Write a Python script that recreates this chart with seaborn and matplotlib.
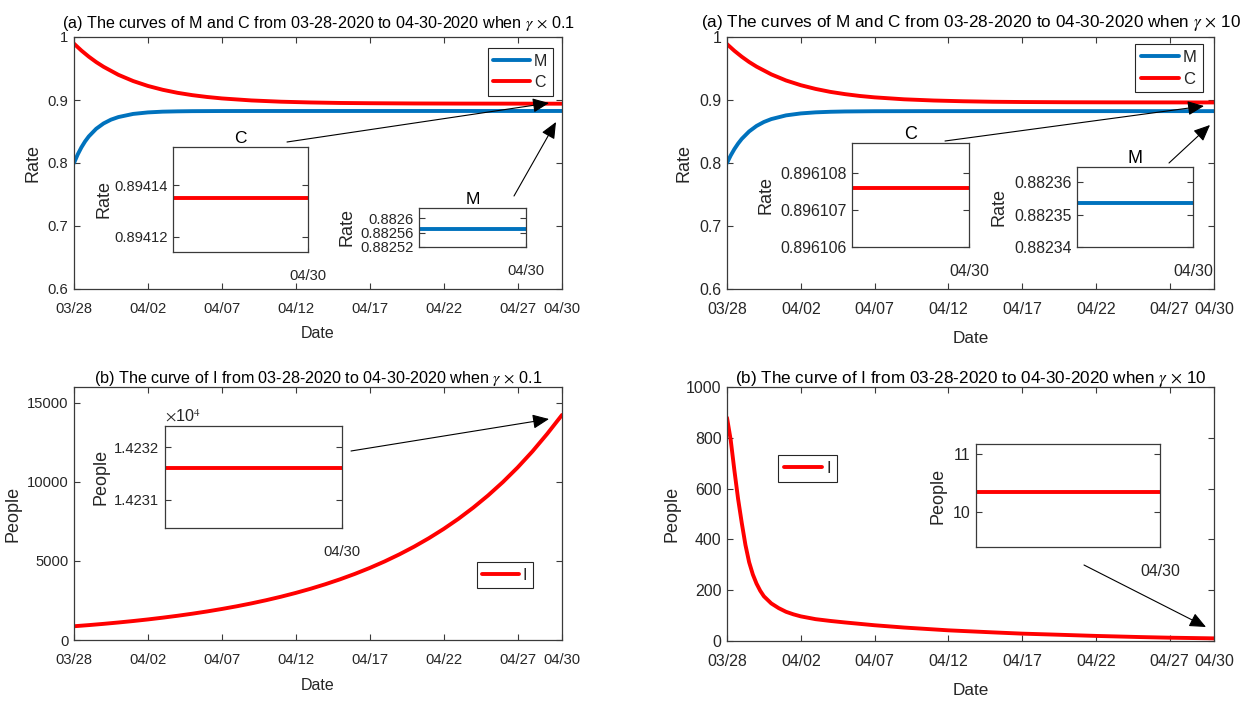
import matplotlib
matplotlib.use("Agg")
import matplotlib.pyplot as plt
import seaborn as sns
from matplotlib.patches import FancyArrowPatch
from matplotlib.ticker import FuncFormatter, FixedLocator

# ---------------- data ----------------
tick_days = [0, 5, 10, 15, 20, 25, 30, 33]
tick_labels = ["03/28", "04/02", "04/07", "04/12", "04/17", "04/22", "04/27", "04/30"]

# M : gamma x 0.1 and gamma x 10
m_days = [0, 0.25, 0.5, 0.75, 1, 1.5, 2, 2.5, 3, 4, 5, 6, 7, 8, 10, 13, 20, 33]
m_low = [0.8000, 0.8135, 0.8248, 0.8343, 0.8422, 0.8543, 0.8628, 0.8688, 0.8729,
         0.8779, 0.8803, 0.8815, 0.8820, 0.8823, 0.8825, 0.88256, 0.88257, 0.882571]
m_high = [0.8000, 0.8119, 0.8221, 0.8308, 0.8383, 0.8501, 0.8588, 0.8651, 0.8697,
          0.8756, 0.8787, 0.8804, 0.8813, 0.8818, 0.8822, 0.88233, 0.882352, 0.8823536]

# C : gamma x 0.1 and gamma x 10
c_days = [0, 0.5, 1, 1.5, 2, 3, 4, 5, 6, 7, 8, 9, 10, 12, 14, 16, 18, 20, 23, 26, 30, 33]
c_low = [0.9894, 0.9785, 0.9688, 0.9602, 0.9527, 0.9400, 0.9301, 0.9223, 0.9162, 0.9114,
         0.9077, 0.9048, 0.9025, 0.8993, 0.8973, 0.8961, 0.8953, 0.8949, 0.8945, 0.89431,
         0.89421, 0.894135]
c_high = [0.9887, 0.9781, 0.9687, 0.9603, 0.9530, 0.9407, 0.9310, 0.9235, 0.9176, 0.9129,
          0.9093, 0.9064, 0.9042, 0.9011, 0.8992, 0.8980, 0.8972, 0.8968, 0.89645, 0.89628,
          0.89617, 0.8961076]

# I : gamma x 0.1 (daily)
i_low_days = list(range(34))
i_low = [870, 942, 1021, 1107, 1200, 1301, 1412, 1532, 1663, 1806, 1962, 2131, 2316, 2518,
         2738, 2979, 3241, 3528, 3841, 4183, 4557, 4966, 5414, 5903, 6439, 7025, 7667, 8371,
         9141, 9985, 10911, 11926, 13039, 14231.6]

# I : gamma x 10
i_high_days = [0, 0.25, 0.5, 0.75, 1.0, 1.25, 1.5, 1.75, 2.0, 2.25, 2.5, 3.0, 3.5, 4.0, 4.5,
               5, 6, 7, 8, 10, 12, 15, 18, 20, 22, 25, 28, 30, 33]
i_high = [879, 792, 672, 560, 465, 378, 310, 262, 226, 198, 176, 148, 129.5, 115, 105,
          97, 86, 79, 73, 62, 53, 42, 34, 29, 25.5, 20, 15.5, 13, 10.34]

# zoomed values at 04/30 shown in the insets
zoom_days = [32.0, 33.0]
zoom_c_low = [0.894135, 0.894135]
zoom_m_low = [0.882571, 0.882571]
zoom_c_high = [0.8961076, 0.8961076]
zoom_m_high = [0.8823536, 0.8823536]
zoom_i_low = [14231.6, 14231.6]
zoom_i_high = [10.34, 10.34]

# ---------------- style ----------------
sns.set_theme(style="white")
plt.rcParams["font.family"] = ["Liberation Sans", "DejaVu Sans"]
plt.rcParams["mathtext.fontset"] = "stix"

RED = "#FF0000"
BLUE = "#0072BD"
AXC = "#3a3a3a"
TXT = "#262626"
LW = 2.8

# font sizes: left panels are drawn a little narrower than right panels
LEFT = dict(title=11.6, tick=10.6, xlab=11.5, ylab=13, leg=11.5, ititle=12.5)
RIGHT = dict(title=12.3, tick=11.4, xlab=12.3, ylab=13, leg=12, ititle=13)

W, H = 1240, 701
fig = plt.figure(figsize=(W / 100, H / 100), dpi=100)
fig.patch.set_facecolor("white")


def px_axes(x1, y1, x2, y2):
    return fig.add_axes([x1 / W, 1 - y2 / H, (x2 - x1) / W, (y2 - y1) / H])


def style_axes(ax, size):
    for s in ax.spines.values():
        s.set_color(AXC)
        s.set_linewidth(0.9)
        s.set_visible(True)
    ax.tick_params(direction="in", length=4, width=0.8, color=AXC, labelcolor=TXT,
                   labelsize=size, top=True, right=True, left=True, bottom=True)
    ax.tick_params(axis="x", pad=9.5)
    ax.tick_params(axis="y", pad=4)
    ax.set_facecolor("white")
    ax.grid(False)


def main_axes(x1, y1, x2, y2, fs):
    ax = px_axes(x1, y1, x2, y2)
    style_axes(ax, fs["tick"])
    ax.set_xlim(0, 33)
    ax.xaxis.set_major_locator(FixedLocator(tick_days))
    ax.set_xticklabels(tick_labels)
    ax.set_xlabel("Date", fontsize=fs["xlab"], color=TXT)
    return ax


def inset(x1, y1, x2, y2, yticks, ylim, fmt, label, fs, title=None, lab_x=-0.4):
    ax = px_axes(x1, y1, x2, y2)
    style_axes(ax, fs["tick"])
    ax.set_xlim(zoom_days[0], zoom_days[-1])
    ax.xaxis.set_major_locator(FixedLocator([tick_days[-1]]))
    ax.set_xticklabels([tick_labels[-1]])
    ax.tick_params(axis="x", pad=12, length=3, top=False)
    ax.set_ylim(*ylim)
    ax.yaxis.set_major_locator(FixedLocator(yticks))
    ax.yaxis.set_major_formatter(FuncFormatter(fmt))
    ax.set_ylabel(label, fontsize=fs["ylab"], color=TXT)
    ax.yaxis.set_label_coords(lab_x, 0.5)
    if title:
        ax.set_title(title, fontsize=fs["ititle"], color="black", pad=3)
    ax.set_zorder(5)
    return ax


def trim(v, p):
    return ("%.7f" % v).rstrip("0").rstrip(".")


def arrow(x1, y1, x2, y2):
    a = FancyArrowPatch((x1 / W, 1 - y1 / H), (x2 / W, 1 - y2 / H),
                        transform=fig.transFigure,
                        arrowstyle="-|>,head_length=0.5,head_width=0.22",
                        mutation_scale=20, lw=0.8, color="black",
                        shrinkA=0, shrinkB=0, zorder=10)
    fig.add_artist(a)


def legend(ax, loc, anchor, fs):
    lg = ax.legend(loc=loc, bbox_to_anchor=anchor, fontsize=fs["leg"], handlelength=2.3,
                   handletextpad=0.25, borderpad=0.35, labelspacing=0.4,
                   borderaxespad=0, frameon=True, fancybox=False, framealpha=1)
    lg.get_frame().set_edgecolor(TXT)
    lg.get_frame().set_linewidth(0.8)
    for t in lg.get_texts():
        t.set_color(TXT)


# ---------------- top-left ----------------
fs = LEFT
ax = main_axes(74, 37, 562, 289, fs)
sns.lineplot(x=m_days, y=m_low, ax=ax, color=BLUE, linewidth=LW, label="M")
sns.lineplot(x=c_days, y=c_low, ax=ax, color=RED, linewidth=LW, label="C")
ax.set_ylim(0.6, 1.0)
ax.yaxis.set_major_locator(FixedLocator([0.6, 0.7, 0.8, 0.9, 1.0]))
ax.yaxis.set_major_formatter(FuncFormatter(trim))
ax.set_ylabel("Rate", fontsize=fs["ylab"], color=TXT)
ax.yaxis.set_label_coords(-0.066, 0.5)
ax.xaxis.set_label_coords(0.5, -0.145)
ax.set_title(r"(a) The curves of M and C from 03-28-2020 to 04-30-2020 when $\gamma$ $\times$ 0.1",
             fontsize=fs["title"], color="black", pad=6.5)
legend(ax, "upper right", (0.9816, 0.956), fs)

ins = inset(173, 147, 308, 252, [0.89412, 0.89414], (0.894114, 0.894155), trim, "Rate", fs, "C", -0.45)
sns.lineplot(x=zoom_days, y=zoom_c_low, ax=ins, color=RED, linewidth=LW)
ins = inset(419, 208, 526, 247, [0.88252, 0.88256, 0.8826], (0.88252, 0.882629), trim, "Rate", fs, "M", -0.59)
sns.lineplot(x=zoom_days, y=zoom_m_low, ax=ins, color=BLUE, linewidth=LW)
arrow(287, 142, 549, 103)
arrow(514, 196, 556, 122)

# ---------------- top-right ----------------
fs = RIGHT
ax = main_axes(727, 37, 1214, 289, fs)
sns.lineplot(x=m_days, y=m_high, ax=ax, color=BLUE, linewidth=LW, label="M")
sns.lineplot(x=c_days, y=c_high, ax=ax, color=RED, linewidth=LW, label="C")
ax.set_ylim(0.6, 1.0)
ax.yaxis.set_major_locator(FixedLocator([0.6, 0.7, 0.8, 0.9, 1.0]))
ax.yaxis.set_major_formatter(FuncFormatter(trim))
ax.set_ylabel("Rate", fontsize=fs["ylab"], color=TXT)
ax.yaxis.set_label_coords(-0.070, 0.5)
ax.xaxis.set_label_coords(0.5, -0.165)
ax.set_title(r"(a) The curves of M and C from 03-28-2020 to 04-30-2020 when $\gamma$ $\times$ 10",
             fontsize=fs["title"], color="black", pad=7)
legend(ax, "upper right", (0.977, 0.972), fs)

ins = inset(852, 143, 969, 247, [0.896106, 0.896107, 0.896108], (0.896106, 0.8961088), trim, "Rate", fs, "C", -0.66)
sns.lineplot(x=zoom_days, y=zoom_c_high, ax=ins, color=RED, linewidth=LW)
ins = inset(1077, 167, 1193, 247, [0.88234, 0.88235, 0.88236], (0.88234, 0.8823648), trim, "Rate", fs, "M", -0.595)
sns.lineplot(x=zoom_days, y=zoom_m_high, ax=ins, color=BLUE, linewidth=LW)
arrow(945, 141, 1204, 106)
arrow(1169, 163, 1210, 125)

# ---------------- bottom-left ----------------
fs = LEFT
ax = main_axes(74, 387, 562, 640, fs)
sns.lineplot(x=i_low_days, y=i_low, ax=ax, color=RED, linewidth=LW, label="I")
ax.set_ylim(0, 16000)
ax.yaxis.set_major_locator(FixedLocator([0, 5000, 10000, 15000]))
ax.yaxis.set_major_formatter(FuncFormatter(lambda v, p: "%d" % v))
ax.set_ylabel("People", fontsize=fs["ylab"], color=TXT)
ax.yaxis.set_label_coords(-0.107, 0.5)
ax.xaxis.set_label_coords(0.5, -0.150)
ax.set_title(r"(b) The curve of I from 03-28-2020 to 04-30-2020 when $\gamma$ $\times$ 0.1",
             fontsize=fs["title"], color="black", pad=3)
legend(ax, "upper right", (0.9406, 0.3083), fs)

ins = inset(165, 426, 342, 528, [14231, 14232], (14230.47, 14232.4),
            lambda v, p: "%.4f" % (v / 1e4), "People", fs, None, -0.316)
sns.lineplot(x=zoom_days, y=zoom_i_low, ax=ins, color=RED, linewidth=LW)
ins.text(0.0, 1.015, r"$\times$10$^{4}$", transform=ins.transAxes, ha="left", va="bottom",
         fontsize=fs["tick"] + 1, color=TXT)
arrow(351, 451, 549, 419)

# ---------------- bottom-right ----------------
fs = RIGHT
ax = main_axes(727, 387, 1214, 641, fs)
sns.lineplot(x=i_high_days, y=i_high, ax=ax, color=RED, linewidth=LW, label="I")
ax.set_ylim(0, 1000)
ax.yaxis.set_major_locator(FixedLocator([0, 200, 400, 600, 800, 1000]))
ax.yaxis.set_major_formatter(FuncFormatter(lambda v, p: "%d" % v))
ax.set_ylabel("People", fontsize=fs["ylab"], color=TXT)
ax.yaxis.set_label_coords(-0.0945, 0.5)
ax.xaxis.set_label_coords(0.5, -0.166)
ax.set_title(r"(b) The curve of I from 03-28-2020 to 04-30-2020 when $\gamma$ $\times$ 10",
             fontsize=fs["title"], color="black", pad=3)
legend(ax, "upper left", (0.1047, 0.731), fs)

ins = inset(976, 444, 1160, 547, [10, 11], (9.4, 11.17), trim, "People", fs, None, -0.163)
sns.lineplot(x=zoom_days, y=zoom_i_high, ax=ins, color=RED, linewidth=LW)
arrow(1084, 565, 1206, 627)

fig.savefig("out.png", dpi=100, facecolor="white")
